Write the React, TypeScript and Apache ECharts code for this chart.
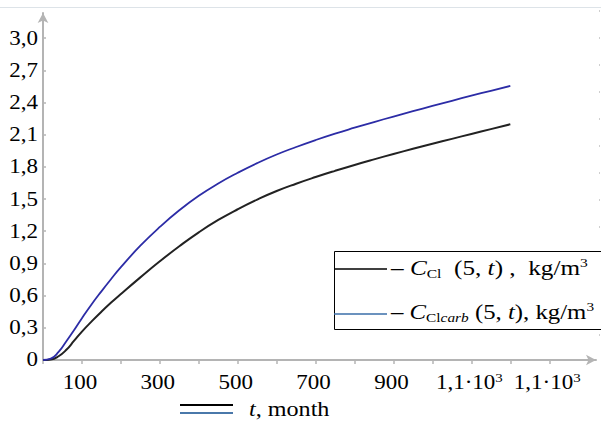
import React, { useEffect, useRef } from "react";
import * as echarts from "echarts";

// time, months
const tMonths = [0, 20, 40, 60, 80, 100, 125, 150, 175, 200, 250, 300, 350, 400, 450, 500, 550, 600, 650, 700, 750, 800, 850, 900, 950, 1000, 1050, 1100, 1150, 1200];
// chloride concentration at depth 5, kg/m3
const cCl = [0, 0.005, 0.035, 0.095, 0.18, 0.265, 0.36, 0.45, 0.535, 0.615, 0.77, 0.92, 1.06, 1.19, 1.305, 1.405, 1.495, 1.575, 1.643, 1.705, 1.763, 1.818, 1.87, 1.92, 1.968, 2.015, 2.061, 2.107, 2.152, 2.197];
// chloride concentration in carbonated concrete, kg/m3
const cClCarb = [0, 0.012, 0.075, 0.175, 0.28, 0.39, 0.52, 0.64, 0.755, 0.865, 1.065, 1.24, 1.395, 1.53, 1.645, 1.745, 1.835, 1.915, 1.985, 2.05, 2.11, 2.165, 2.218, 2.269, 2.319, 2.368, 2.416, 2.463, 2.509, 2.554];

const xTickValues = [100, 300, 500, 700, 900, 1100, 1300];
const xTickLabels = ["100", "300", "500", "700", "900", "1,1·10{sup|3}", "1,1·10{sup|3}"];
const xMinorTicks = [0, 100, 200, 300, 400, 500, 600, 700, 800, 900, 1000, 1100, 1200, 1300];
const yTickValues = [0, 0.3, 0.6, 0.9, 1.2, 1.5, 1.8, 2.1, 2.4, 2.7, 3.0];
const yTickLabels = ["0", "0,3", "0,6", "0,9", "1,2", "1,5", "1,8", "2,1", "2,4", "2,7", "3,0"];

const FONT = "Liberation Serif";
const FS = 20;
const WIDEN = 1.15; // glyphs are drawn a little wider than the face's natural width
const AXIS_GRAY = "#b4b4b4";

export default function App() {
  const ref = useRef<HTMLDivElement>(null);

  useEffect(() => {
    if (!ref.current) return;
    const chart = echarts.init(ref.current, null, { renderer: "svg" });

    const pairs = (ys: number[]) => tMonths.map((t, i) => [t, ys[i]]);

    const makeRich = (fs: number) => ({
      i: { fontFamily: FONT, fontSize: fs, lineHeight: 24, fontStyle: "italic", fill: "#000", color: "#000" },
      sub: { fontFamily: FONT, fontSize: 13, lineHeight: 12, fill: "#000", color: "#000", verticalAlign: "bottom" },
      subi: { fontFamily: FONT, fontSize: 13, lineHeight: 12, fontStyle: "italic", fill: "#000", color: "#000", verticalAlign: "bottom" },
      sup: { fontFamily: FONT, fontSize: 13, lineHeight: 10, fill: "#000", color: "#000", verticalAlign: "top" },
    });

    const label = (
      text: string,
      x: number,
      y: number,
      align: string,
      verticalAlign: string,
      fs = FS,
      widen = WIDEN
    ) => ({
      type: "text",
      x,
      y,
      z: 11,
      scaleX: widen,
      style: {
        text,
        fontFamily: FONT,
        fontSize: fs,
        lineHeight: 24,
        fill: "#000",
        align,
        verticalAlign,
        rich: makeRich(fs),
      },
    });

    chart.setOption({
      animation: false,
      backgroundColor: "#fff",
      grid: { left: 43, right: 5, top: 13, bottom: 65 },
      xAxis: {
        type: "value",
        min: 0,
        max: 1420,
        splitLine: { show: false },
        axisLine: {
          onZero: false,
          lineStyle: { color: AXIS_GRAY, width: 2 },
          symbol: ["none", "arrow"],
          symbolSize: [8, 10],
        },
        axisTick: {
          customValues: xMinorTicks,
          length: 4,
          lineStyle: { color: AXIS_GRAY, width: 1.5 },
        },
        axisLabel: { show: false },
      },
      yAxis: {
        type: "value",
        min: 0,
        max: 3.234,
        splitLine: { show: false },
        axisLine: {
          onZero: false,
          lineStyle: { color: AXIS_GRAY, width: 2 },
          symbol: ["none", "arrow"],
          symbolSize: [8, 10],
        },
        axisTick: {
          customValues: yTickValues,
          inside: true,
          length: 3,
          lineStyle: { color: AXIS_GRAY, width: 1.5 },
        },
        axisLabel: { show: false },
      },
      series: [
        {
          type: "line",
          data: pairs(cCl),
          showSymbol: false,
          smooth: true,
          lineStyle: { color: "#222", width: 2 },
        },
        {
          type: "line",
          data: pairs(cClCarb),
          showSymbol: false,
          smooth: true,
          lineStyle: { color: "#2c2ca6", width: 1.8 },
        },
      ],
    });

    // tick labels placed through the axes' own scales
    const xLabels = xTickValues.map((v, k) => {
      const [px, py] = chart.convertToPixel({ gridIndex: 0 }, [v, 0]) as number[];
      return label(xTickLabels[k], px - 2, py + 11, "center", "top");
    });
    const yLabels = yTickValues.map((v, k) => {
      const [px, py] = chart.convertToPixel({ gridIndex: 0 }, [0, v]) as number[];
      return label(yTickLabels[k], px - 5, py, "right", "middle");
    });

    chart.setOption({
      graphic: [
        // faint frame of the plot region
        {
          type: "line",
          shape: { x1: 0, y1: 7.5, x2: 601, y2: 7.5 },
          style: { stroke: "#dde3e8", lineWidth: 1 },
          silent: true,
        },
        {
          type: "line",
          shape: { x1: 599.5, y1: 10, x2: 599.5, y2: 360 },
          style: { stroke: "#cfcfcf", lineWidth: 1, lineDash: [2, 25] },
          silent: true,
        },
        ...xLabels,
        ...yLabels,
        // legend box
        {
          type: "rect",
          shape: { x: 334.5, y: 251.5, width: 300, height: 78 },
          style: { fill: "#fff", stroke: "#000", lineWidth: 1 },
          z: 10,
        },
        {
          type: "line",
          shape: { x1: 334, y1: 269, x2: 387, y2: 269 },
          style: { stroke: "#000", lineWidth: 1.5 },
          z: 11,
        },
        {
          type: "line",
          shape: { x1: 334, y1: 314, x2: 387, y2: 314 },
          style: { stroke: "#3a6ea8", lineWidth: 1.5 },
          z: 11,
        },
        label("– {i|C}{sub|Cl}  (5, {i|t}) ,  kg/m{sup|3}", 391, 268, "left", "middle", 21, 1.2),
        label("– {i|C}{sub|Cl}{subi|carb} (5, {i|t}), kg/m{sup|3}", 391, 312, "left", "middle", 21, 1.18),
        // x-axis caption
        {
          type: "line",
          shape: { x1: 180, y1: 405, x2: 233, y2: 405 },
          style: { stroke: "#000", lineWidth: 2 },
        },
        {
          type: "line",
          shape: { x1: 180, y1: 413, x2: 233, y2: 413 },
          style: { stroke: "#4a78aa", lineWidth: 2 },
        },
        label("{i|t}, month", 249, 409, "left", "middle", 21, 1.15),
      ],
    });

    return () => chart.dispose();
  }, []);

  return (
    <div
      ref={ref}
      style={{ position: "fixed", left: 0, top: 0, width: 601, height: 425 }}
    />
  );
}
